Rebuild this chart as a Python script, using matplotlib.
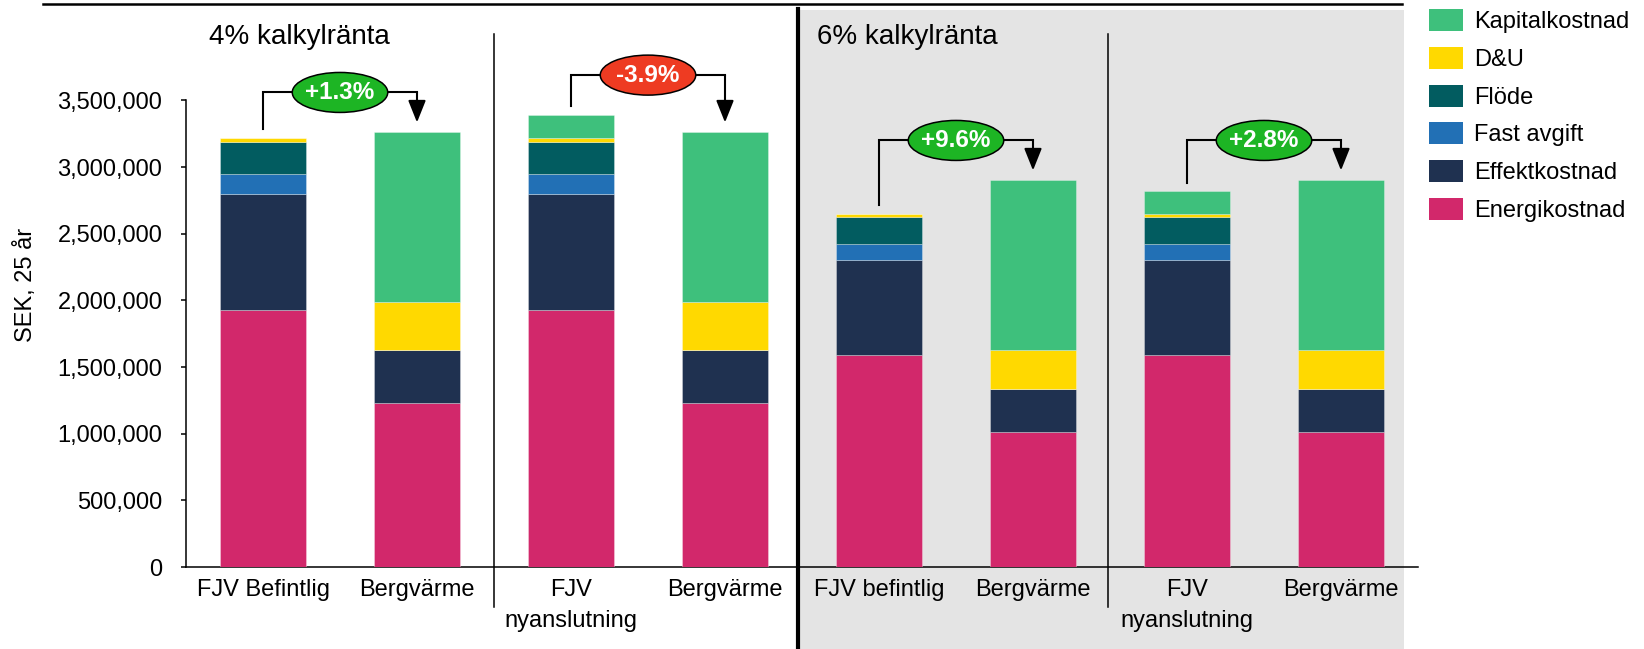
import matplotlib
matplotlib.use("Agg")
import matplotlib.pyplot as plt
from matplotlib.patches import Ellipse, Rectangle, Patch
from matplotlib.lines import Line2D
from matplotlib.transforms import blended_transform_factory
from matplotlib.ticker import FuncFormatter
import numpy as np

plt.rcParams["font.family"] = ["Liberation Sans", "DejaVu Sans"]

# ── DATA (SEK, 25 år) ────────────────────────────────────────────────────────
categories = ["FJV Befintlig", "Bergvärme", "FJV\nnyanslutning", "Bergvärme",
              "FJV befintlig", "Bergvärme", "FJV\nnyanslutning", "Bergvärme"]
energikostnad = [1925000, 1230000, 1925000, 1230000, 1590000, 1010000, 1590000, 1010000]
effektkostnad = [870000, 395000, 870000, 395000, 715000, 325000, 715000, 325000]
fast_avgift = [150000, 0, 150000, 0, 115000, 0, 115000, 0]
flode = [240000, 0, 240000, 0, 205000, 0, 205000, 0]
du = [33000, 365000, 33000, 365000, 22000, 295000, 22000, 295000]
kapitalkostnad = [0, 1270000, 172000, 1270000, 0, 1270000, 172000, 1270000]

group_titles = ["4% kalkylränta", "6% kalkylränta"]
change_labels = ["+1.3%", "-3.9%", "+9.6%", "+2.8%"]
yticks = [0, 500000, 1000000, 1500000, 2000000, 2500000, 3000000, 3500000]

series = [
    ("Energikostnad", energikostnad, "#D2286B"),
    ("Effektkostnad", effektkostnad, "#1F3150"),
    ("Fast avgift", fast_avgift, "#2270B5"),
    ("Flöde", flode, "#025C60"),
    ("D&U", du, "#FFD900"),
    ("Kapitalkostnad", kapitalkostnad, "#3EC07C"),
]

W, H = 1644, 649
fig = plt.figure(figsize=(W / 100, H / 100), dpi=100)
ax = fig.add_axes([186 / W, (H - 567) / H, (1418 - 186) / W, (567 - 3) / H])
ax.set_facecolor("none")

x = np.arange(len(categories))
bottom = np.zeros(len(categories))
handles = []
for name, vals, col in series:
    vals = np.array(vals, dtype=float)
    ax.bar(x, vals, width=0.555, bottom=bottom, color=col,
           edgecolor=(1, 1, 1, 0.35), linewidth=0.6, zorder=3)
    bottom += vals
    handles.append(Patch(facecolor=col, label=name))
totals = bottom

ax.set_xlim(-0.5, 7.5)
ax.set_ylim(0, 4.231e6)
ax.set_yticks(yticks)
ax.yaxis.set_major_formatter(FuncFormatter(lambda v, p: f"{v:,.0f}"))
ax.set_xticks(x)
ax.set_xticklabels(categories, linespacing=1.55)
ax.tick_params(axis="x", length=0, pad=8.5, labelsize=17)
ax.tick_params(axis="y", length=3.6, width=1.1, pad=13.5, labelsize=17)
ax.set_ylabel("SEK, 25 år", fontsize=17, labelpad=15)
for s in ["top", "right"]:
    ax.spines[s].set_visible(False)
ax.spines["left"].set_bounds(0, 3.5e6)
ax.spines["left"].set_linewidth(1.1)
ax.spines["bottom"].set_linewidth(1.1)

# grey background for the 6% half + dividers
bt = blended_transform_factory(ax.transData, fig.transFigure)
ax.add_patch(Rectangle((3.475, 0), 7.408 - 3.475, 1 - 10 / H, transform=bt,
                       facecolor="#E4E4E4", edgecolor="none", zorder=0, clip_on=False))
ax.plot([3.475, 3.475], [0, 1 - 9 / H], transform=bt, color="black", lw=3, clip_on=False, zorder=4)
for xd in [1.5, 5.49]:
    ax.plot([xd, xd], [-0.297e6, 4.0e6], color="black", lw=1.1, clip_on=False, zorder=4)
fig.add_artist(Line2D([43 / W, 1402 / W], [1 - 3.5 / H] * 2, color="black", lw=1.8))

# group titles
for xt, t in zip([-0.35, 3.6], group_titles):
    ax.text(xt, 3.92e6, t, fontsize=20, ha="left", va="baseline")

# change bubbles with connectors
for k, lab in enumerate(change_labels):
    i, j = 2 * k, 2 * k + 1
    y_line = max(totals[i], totals[j]) + 0.3e6
    ax.plot([i, i, j], [totals[i] + 0.065e6, y_line, y_line], color="black",
            lw=1.5, clip_on=False, zorder=5, solid_joinstyle="miter")
    ax.annotate("", xy=(j, totals[j] + 0.075e6), xytext=(j, y_line),
                arrowprops=dict(arrowstyle="-|>,head_length=0.75,head_width=0.3",
                                mutation_scale=18, lw=1.5, color="black",
                                shrinkA=0, shrinkB=0), zorder=5, annotation_clip=False)
    col = "#1DB524" if lab.startswith("+") else "#EE3B22"
    ax.add_patch(Ellipse(((i + j) / 2, y_line), 0.62, 0.3e6, facecolor=col,
                         edgecolor="black", lw=1.1, zorder=6, clip_on=False))
    ax.text((i + j) / 2, y_line, lab, color="white", fontsize=17.5, fontweight="bold",
            ha="center", va="center", zorder=7)

fig.legend(handles=handles[::-1], loc="upper left", bbox_to_anchor=(1429 / W, 1 - 9 / H),
           frameon=False, fontsize=17, handlelength=1.45, handleheight=1.06,
           labelspacing=0.58, handletextpad=0.45, borderaxespad=0, borderpad=0)

fig.savefig("out.png", dpi=100)
